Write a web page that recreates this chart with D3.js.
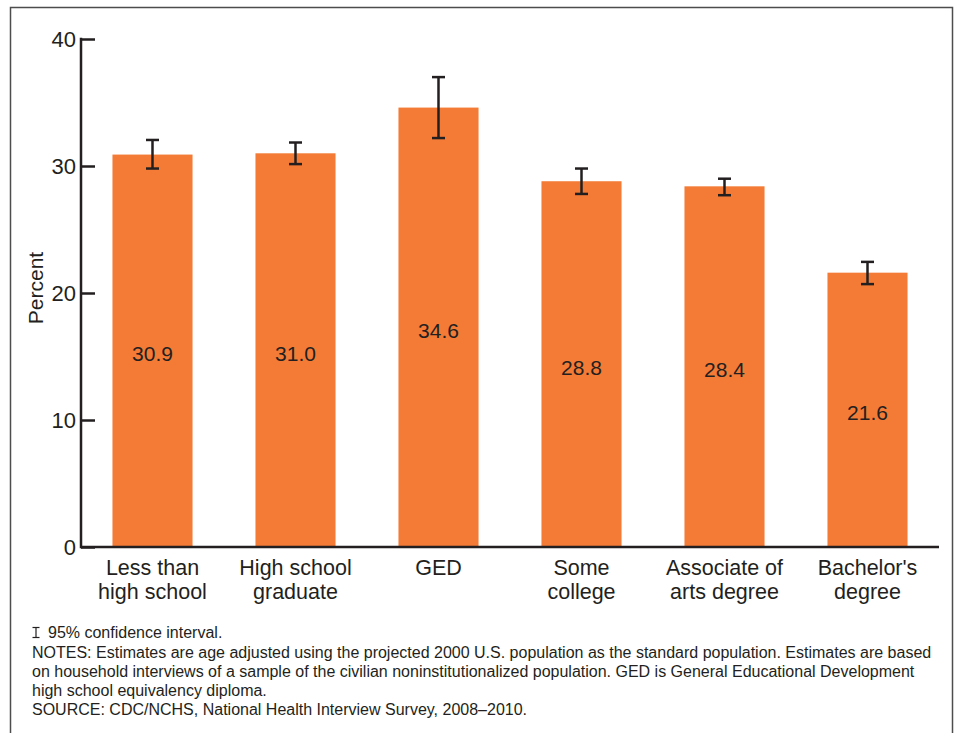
<!DOCTYPE html>
<html>
<head>
<meta charset="utf-8">
<script src="https://cdn.jsdelivr.net/npm/d3@7"></script>
<style>
  html, body { margin: 0; padding: 0; background: #fff; }
  svg { display: block; font-family: Arial, "Liberation Sans", Helvetica, sans-serif; }
</style>
</head>
<body>
<svg id="chart" width="956" height="733"></svg>
<script>
// Education level categories (two-line labels)
const categories = [
  ["Less than", "high school"],
  ["High school", "graduate"],
  ["GED"],
  ["Some", "college"],
  ["Associate of", "arts degree"],
  ["Bachelor's", "degree"]
];
// Percent values
const values = [30.9, 31.0, 34.6, 28.8, 28.4, 21.6];
// 95% confidence interval bounds
const ciLow  = [29.8, 30.15, 32.2, 27.8, 27.7, 20.7];
const ciHigh = [32.05, 31.85, 37.0, 29.8, 29.0, 22.45];
// Y axis ticks
const yTicks = [0, 10, 20, 30, 40];

const notes = [
  "95% confidence interval.",
  "NOTES: Estimates are age adjusted using the projected 2000 U.S. population as the standard population. Estimates are based",
  "on household interviews of a sample of the civilian noninstitutionalized population. GED is General Educational Development",
  "high school equivalency diploma.",
  "SOURCE: CDC/NCHS, National Health Interview Survey, 2008\u20132010."
];

const ink = "#231f20";
const barColor = "#f47b36";

const svg = d3.select("#chart");

// Outer frame (bottom edge runs past the page)
svg.append("rect")
  .attr("x", 10.5).attr("y", 7.5)
  .attr("width", 942).attr("height", 740)
  .attr("fill", "none").attr("stroke", "#4d4d4d").attr("stroke-width", 1.5);

const plotLeft = 81, plotRight = 939, plotTop = 39, plotBottom = 547;

const x = d3.scaleBand()
  .domain(d3.range(categories.length))
  .range([plotLeft, plotRight])
  .paddingInner(0.44)
  .paddingOuter(0.22);

const y = d3.scaleLinear().domain([0, 40]).range([plotBottom, plotTop]);

// Bars
svg.append("g").selectAll("rect")
  .data(values)
  .join("rect")
  .attr("x", (d, i) => x(i))
  .attr("y", d => y(d))
  .attr("width", x.bandwidth())
  .attr("height", d => y(0) - y(d))
  .attr("fill", barColor);

// Value labels inside bars
svg.append("g").selectAll("text")
  .data(values)
  .join("text")
  .attr("x", (d, i) => x(i) + x.bandwidth() / 2)
  .attr("y", d => (y(d) + y(0)) / 2 + 3)
  .attr("text-anchor", "middle")
  .attr("dominant-baseline", "central")
  .attr("font-size", 21)
  .attr("fill", ink)
  .text(d => d.toFixed(1));

// Error bars
const capHalf = 6.5;
const eb = svg.append("g").attr("stroke", ink).attr("stroke-width", 2.5).attr("fill", "none");
values.forEach((v, i) => {
  const cx = x(i) + x.bandwidth() / 2;
  eb.append("line").attr("x1", cx).attr("x2", cx).attr("y1", y(ciHigh[i])).attr("y2", y(ciLow[i]));
  eb.append("line").attr("x1", cx - capHalf).attr("x2", cx + capHalf).attr("y1", y(ciHigh[i])).attr("y2", y(ciHigh[i]));
  eb.append("line").attr("x1", cx - capHalf).attr("x2", cx + capHalf).attr("y1", y(ciLow[i])).attr("y2", y(ciLow[i]));
});

// Y axis: ticks point inward toward the bars
const yAxis = d3.axisRight(y).tickValues(yTicks).tickSize(14).tickFormat("");
const yg = svg.append("g").attr("transform", `translate(${plotLeft},0)`).call(yAxis);
yg.select(".domain").remove();
yg.selectAll(".tick line").attr("stroke", ink).attr("stroke-width", 2.5);
svg.append("line")
  .attr("x1", plotLeft).attr("x2", plotLeft)
  .attr("y1", y(40) - 1.25).attr("y2", y(0) + 1.25)
  .attr("stroke", ink).attr("stroke-width", 2.5);

// Y tick labels
svg.append("g").selectAll("text")
  .data(yTicks)
  .join("text")
  .attr("x", plotLeft - 5)
  .attr("y", d => y(d))
  .attr("text-anchor", "end")
  .attr("dominant-baseline", "central")
  .attr("font-size", 22)
  .attr("fill", ink)
  .text(d => d);

// X baseline
svg.append("line")
  .attr("x1", plotLeft).attr("x2", plotRight)
  .attr("y1", y(0)).attr("y2", y(0))
  .attr("stroke", ink).attr("stroke-width", 2.5);

// Y axis title
svg.append("text")
  .attr("transform", `translate(43,${(plotTop + plotBottom) / 2 - 5}) rotate(-90)`)
  .attr("text-anchor", "middle")
  .attr("font-size", 21)
  .attr("fill", ink)
  .text("Percent");

// Category labels
const cat = svg.append("g").selectAll("text")
  .data(categories)
  .join("text")
  .attr("x", (d, i) => x(i) + x.bandwidth() / 2)
  .attr("y", 575)
  .attr("text-anchor", "middle")
  .attr("font-size", 21.5)
  .attr("fill", ink);
cat.selectAll("tspan")
  .data(d => d)
  .join("tspan")
  .attr("x", function () { return d3.select(this.parentNode).attr("x"); })
  .attr("dy", (d, j) => j === 0 ? 0 : 24)
  .text(d => d);

// Notes block
const noteY = [638, 657.5, 677, 695.5, 715];
const nb = svg.append("g").attr("font-size", 16).attr("fill", ink);
// confidence interval glyph
const gx = 36, gy = noteY[0] - 5.5;
const glyph = nb.append("g").attr("stroke", ink).attr("stroke-width", 1.2);
glyph.append("line").attr("x1", gx).attr("x2", gx).attr("y1", gy - 5).attr("y2", gy + 5);
glyph.append("line").attr("x1", gx - 3.5).attr("x2", gx + 3.5).attr("y1", gy - 5).attr("y2", gy - 5);
glyph.append("line").attr("x1", gx - 3.5).attr("x2", gx + 3.5).attr("y1", gy + 5).attr("y2", gy + 5);
nb.selectAll("text")
  .data(notes)
  .join("text")
  .attr("x", (d, i) => i === 0 ? 48 : 32)
  .attr("y", (d, i) => noteY[i])
  .text(d => d);
</script>
</body>
</html>
